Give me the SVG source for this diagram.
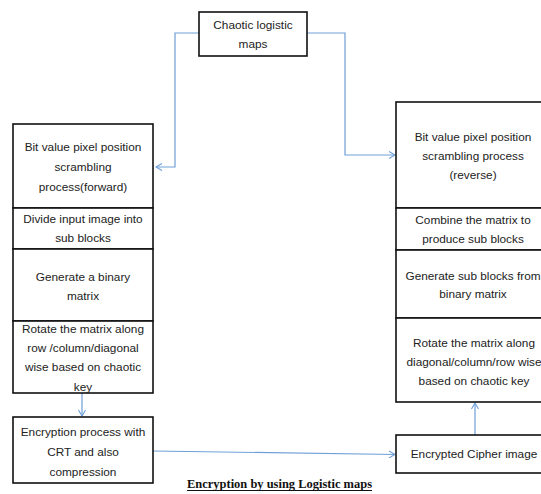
<svg xmlns="http://www.w3.org/2000/svg" width="541" height="494" viewBox="0 0 541 494">
<style>
.box{fill:#fff;stroke:#111;stroke-width:1.6}
.t{font-family:"Liberation Sans",Arial,sans-serif;font-size:11.8px;fill:#222;text-anchor:middle}
.c{fill:none;stroke:#6f9fd8;stroke-width:1.2}
.cap{font-family:"Liberation Serif","Times New Roman",serif;font-size:12.5px;font-weight:bold;fill:#111}
</style>
<defs>
<marker id="ah" markerWidth="8" markerHeight="8" refX="7" refY="4" orient="auto" markerUnits="userSpaceOnUse">
<polyline points="1,0.5 7,4 1,7.5" fill="none" stroke="#6f9fd8" stroke-width="1.1"/>
</marker>
</defs>
<rect width="541" height="494" fill="#fff"/>
<g id="connectors">
<polyline class="c" points="199,33 175,33 175,167 156,167" marker-end="url(#ah)"/>
<polyline class="c" points="307,33 345,33 345,155 395,155" marker-end="url(#ah)"/>
<line class="c" x1="82" y1="393" x2="82" y2="416" marker-end="url(#ah)"/>
<line class="c" x1="153" y1="451" x2="395" y2="454.5" marker-end="url(#ah)"/>
<line class="c" x1="475" y1="435" x2="475" y2="403" marker-end="url(#ah)"/>
</g>
<g id="chaotic">
<rect class="box" x="199" y="12" width="108" height="44"/>
<text class="t" x="253" y="29">Chaotic logistic</text>
<text class="t" x="253" y="48">maps</text>
</g>
<g id="scramble-forward">
<rect class="box" x="13" y="124" width="140" height="84"/>
<text class="t" x="83" y="151">Bit value pixel position</text>
<text class="t" x="83" y="171">scrambling</text>
<text class="t" x="83" y="191">process(forward)</text>
</g>
<g id="divide">
<rect class="box" x="13" y="208" width="140" height="41"/>
<text class="t" x="83" y="223">Divide input image into</text>
<text class="t" x="83" y="242">sub blocks</text>
</g>
<g id="generate-binary">
<rect class="box" x="13" y="249" width="140" height="72"/>
<text class="t" x="83" y="281">Generate a binary</text>
<text class="t" x="83" y="300">matrix</text>
</g>
<g id="rotate-forward">
<rect class="box" x="13" y="321" width="140" height="72"/>
<text class="t" x="83" y="333">Rotate the matrix along</text>
<text class="t" x="83" y="352">row /column/diagonal</text>
<text class="t" x="83" y="371">wise based on chaotic</text>
<text class="t" x="83" y="391">key</text>
</g>
<g id="encryption">
<rect class="box" x="13" y="417" width="140" height="66"/>
<text class="t" x="83" y="436">Encryption process with</text>
<text class="t" x="83" y="456">CRT and also</text>
<text class="t" x="83" y="476">compression</text>
</g>
<g id="scramble-reverse">
<rect class="box" x="396" y="102" width="156" height="106"/>
<text class="t" x="473" y="141">Bit value pixel position</text>
<text class="t" x="473" y="160">scrambling process</text>
<text class="t" x="473" y="179">(reverse)</text>
</g>
<g id="combine">
<rect class="box" x="396" y="208" width="156" height="42"/>
<text class="t" x="473" y="224">Combine the matrix to</text>
<text class="t" x="473" y="243">produce sub blocks</text>
</g>
<g id="generate-sub">
<rect class="box" x="396" y="250" width="156" height="68"/>
<text class="t" x="473" y="280">Generate sub blocks from</text>
<text class="t" x="473" y="298">binary matrix</text>
</g>
<g id="rotate-reverse">
<rect class="box" x="396" y="318" width="156" height="84"/>
<text class="t" x="474" y="347">Rotate the matrix along</text>
<text class="t" x="474" y="366">diagonal/column/row wise</text>
<text class="t" x="474" y="385">based on chaotic key</text>
</g>
<g id="cipher">
<rect class="box" x="396" y="435" width="156" height="38"/>
<text class="t" x="474" y="458">Encrypted Cipher image</text>
</g>
<g id="caption">
<text class="cap" x="187" y="488" textLength="185" lengthAdjust="spacingAndGlyphs">Encryption by using Logistic maps</text>
<line x1="187" y1="490.5" x2="372" y2="490.5" stroke="#111" stroke-width="1"/>
</g>
</svg>
